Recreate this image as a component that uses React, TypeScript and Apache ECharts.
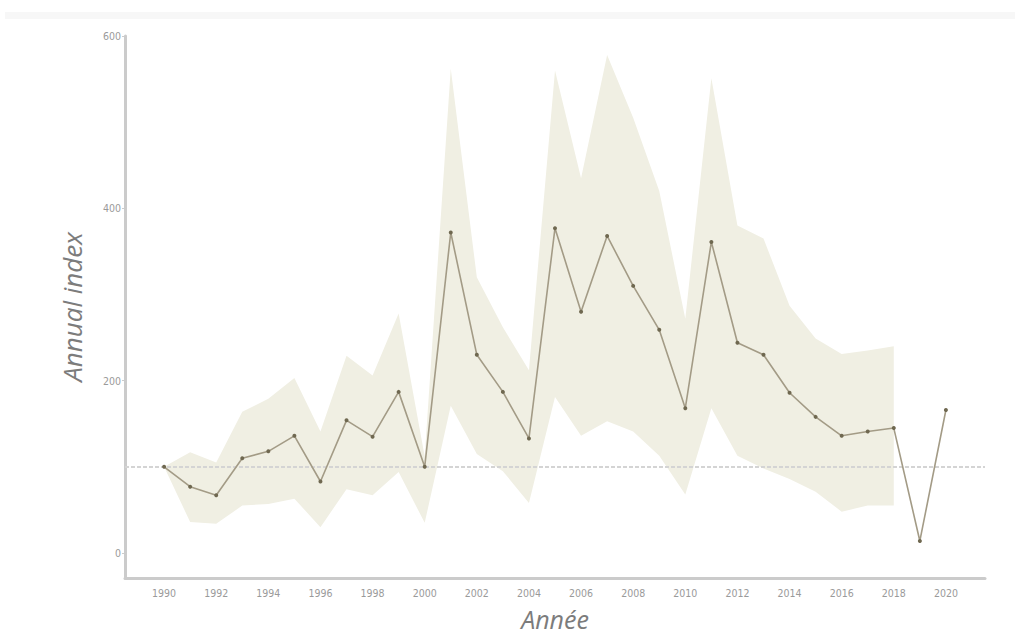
import React, { useEffect, useRef } from "react";
import * as echarts from "echarts";

const years: string[] = [];
for (let y = 1989; y <= 2021; y++) years.push(String(y));

// Annual index, 1990..2020
const indexYears = [1990,1991,1992,1993,1994,1995,1996,1997,1998,1999,2000,2001,2002,2003,2004,2005,2006,2007,2008,2009,2010,2011,2012,2013,2014,2015,2016,2017,2018,2019,2020];
const indexValues = [100,77,67,110,118,136,83,154,135,187,100,372,230,187,133,377,280,368,310,259,168,361,244,230,186,158,136,141,145,14,166];

// Confidence band, 1990..2018
const bandYears = [1990,1991,1992,1993,1994,1995,1996,1997,1998,1999,2000,2001,2002,2003,2004,2005,2006,2007,2008,2009,2010,2011,2012,2013,2014,2015,2016,2017,2018];
const bandUpper = [100,117,105,164,179,203,141,229,206,278,112,562,320,262,212,560,435,578,505,420,272,551,380,365,287,249,231,235,240];
const bandLower = [100,36,34,55,57,63,30,74,67,94,35,171,115,95,58,181,136,153,141,113,68,168,113,98,86,71,48,55,55];

const yTicks = [0, 200, 400, 600];

export default function App() {
  const ref = useRef<HTMLDivElement>(null);
  useEffect(() => {
    if (!ref.current) return;
    const chart = echarts.init(ref.current, undefined, { renderer: "svg" });
    const lineData = years.map((y) => {
      const i = indexYears.indexOf(Number(y));
      return i >= 0 ? indexValues[i] : "-";
    });
    const lowData = years.map((y) => {
      const i = bandYears.indexOf(Number(y));
      return i >= 0 ? bandLower[i] : "-";
    });
    const diffData = years.map((y) => {
      const i = bandYears.indexOf(Number(y));
      return i >= 0 ? bandUpper[i] - bandLower[i] : "-";
    });
    const axisColor = "#cbcbcb";
    const labelColor = "#9a9a9a";
    chart.setOption({
      animation: false,
      backgroundColor: "#ffffff",
      graphic: [
        {
          type: "rect",
          shape: { x: 5, y: 12, width: 1010, height: 7 },
          style: { fill: "#f7f7f7" },
          silent: true,
        },
      ],
      grid: { left: 125, right: 30, top: 36, bottom: 59, containLabel: false },
      xAxis: {
        type: "category",
        data: years,
        boundaryGap: true,
        name: "Année",
        nameLocation: "middle",
        nameGap: 28,
        nameTextStyle: {
          fontFamily: "Open Sans",
          fontStyle: "italic",
          fontSize: 25,
          color: "#7c7c7c",
        },
        axisLine: { show: true, onZero: false, lineStyle: { color: axisColor, width: 3 } },
        axisTick: { show: false },
        axisLabel: {
          interval: (_idx: number, val: string) => Number(val) % 2 === 0,
          color: labelColor,
          fontSize: 10.5,
          fontFamily: "Liberation Sans Narrow, DejaVu Sans Condensed, sans-serif",
          margin: 9,
        },
        splitLine: { show: false },
      },
      yAxis: {
        type: "value",
        min: -29,
        max: 600,
        name: "Annual index",
        nameLocation: "middle",
        nameGap: 40,
        nameTextStyle: {
          fontFamily: "Open Sans",
          fontStyle: "italic",
          fontSize: 26,
          color: "#7c7c7c",
        },
        axisLine: { show: true, onZero: false, lineStyle: { color: axisColor, width: 3 } },
        axisTick: { show: true, length: 3, customValues: yTicks, lineStyle: { color: axisColor } },
        axisLabel: {
          customValues: yTicks,
          color: labelColor,
          fontSize: 10.5,
          fontFamily: "Liberation Sans Narrow, DejaVu Sans Condensed, sans-serif",
          margin: 4,
        },
        splitLine: { show: false },
      },
      series: [
        {
          type: "line",
          data: lowData,
          stack: "band",
          symbol: "none",
          lineStyle: { opacity: 0 },
          areaStyle: { opacity: 0 },
          silent: true,
          z: 1,
        },
        {
          type: "line",
          data: diffData,
          stack: "band",
          symbol: "none",
          lineStyle: { opacity: 0 },
          areaStyle: { color: "#f0efe3", opacity: 1 },
          silent: true,
          z: 1,
        },
        {
          type: "line",
          data: lineData,
          symbol: "circle",
          symbolSize: 4,
          connectNulls: false,
          itemStyle: { color: "#6f6850" },
          lineStyle: { color: "#a39b86", width: 1.6 },
          z: 3,
          markLine: {
            silent: true,
            symbol: ["none", "none"],
            label: { show: false },
            lineStyle: { type: [4, 2], color: "#d4d4d4", width: 2 },
            data: [{ yAxis: 100 }],
            z: 2,
          },
        },
      ],
    });
    return () => chart.dispose();
  }, []);
  return (
    <div
      ref={ref}
      style={{ position: "fixed", left: 0, top: 0, width: 1015, height: 637 }}
    />
  );
}
